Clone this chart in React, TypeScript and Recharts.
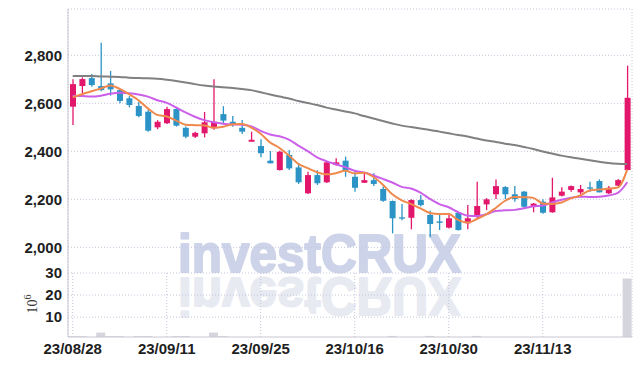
import React from 'react';
import { ComposedChart, BarChart, Bar, Line, XAxis, YAxis, CartesianGrid } from 'recharts';

const dates = [
  '23/08/28','23/08/29','23/08/30','23/08/31','23/09/01',
  '23/09/04','23/09/05','23/09/06','23/09/07','23/09/08',
  '23/09/11','23/09/12','23/09/13','23/09/14','23/09/15',
  '23/09/18','23/09/19','23/09/20','23/09/21','23/09/22',
  '23/09/25','23/09/26','23/09/27','23/10/04','23/10/05',
  '23/10/06','23/10/10','23/10/11','23/10/12','23/10/13',
  '23/10/16','23/10/17','23/10/18','23/10/19','23/10/20',
  '23/10/23','23/10/24','23/10/25','23/10/26','23/10/27',
  '23/10/30','23/10/31','23/11/01','23/11/02','23/11/03',
  '23/11/06','23/11/07','23/11/08','23/11/09','23/11/10',
  '23/11/13','23/11/14','23/11/15','23/11/16','23/11/17',
  '23/11/20','23/11/21','23/11/22','23/11/23','23/11/24',
];

const opens = [2586,2672,2705,2672,2683,2655,2621,2589,2565,2500,2517,2576,2498,2461,2475,2496,2555,2523,2498,2440,2422,2361,2322,2385,2333,2225,2301,2271,2343,2361,2294,2269,2280,2243,2193,2125,2123,2197,2135,2108,2082,2144,2100,2127,2179,2221,2251,2221,2232,2169,2190,2146,2215,2239,2229,2250,2276,2225,2257,2322];
const highs = [2700,2708,2722,2852,2735,2660,2630,2607,2572,2530,2586,2580,2503,2482,2564,2700,2588,2547,2530,2482,2450,2401,2402,2405,2350,2315,2321,2360,2371,2378,2318,2309,2309,2253,2195,2180,2200,2218,2152,2139,2142,2150,2176,2273,2205,2283,2255,2255,2235,2185,2200,2290,2250,2258,2260,2273,2283,2255,2285,2757];
const lows = [2510,2643,2669,2650,2632,2600,2583,2542,2482,2492,2514,2503,2454,2455,2458,2490,2517,2502,2472,2440,2375,2350,2320,2322,2264,2222,2260,2268,2340,2294,2232,2268,2255,2190,2058,2113,2075,2170,2042,2072,2078,2070,2075,2122,2155,2201,2201,2190,2165,2146,2140,2144,2212,2232,2221,2232,2229,2222,2255,2320];
const closes = [2680,2701,2676,2655,2658,2610,2593,2547,2486,2523,2576,2507,2461,2477,2521,2523,2528,2514,2482,2448,2392,2350,2398,2329,2271,2301,2267,2354,2354,2319,2248,2280,2264,2194,2121,2122,2197,2176,2097,2102,2121,2072,2121,2172,2200,2255,2221,2201,2169,2182,2144,2208,2232,2255,2243,2246,2229,2248,2280,2623];

const ma5 = [2625,2638,2650,2662,2674,2660,2638,2613,2579,2552,2545,2528,2511,2509,2508,2498,2502,2513,2514,2499,2473,2437,2414,2383,2348,2330,2313,2304,2309,2319,2308,2311,2293,2261,2221,2196,2180,2162,2143,2139,2139,2114,2103,2118,2137,2164,2194,2210,2209,2206,2183,2181,2187,2204,2216,2237,2241,2244,2249,2325];
const ma10 = [2632,2630,2628,2632,2640,2644,2642,2637,2628,2613,2602,2583,2562,2544,2530,2521,2515,2512,2511,2504,2485,2470,2463,2449,2424,2401,2375,2359,2346,2334,2319,2312,2299,2285,2270,2252,2245,2228,2202,2180,2167,2147,2132,2130,2138,2151,2154,2156,2163,2171,2174,2187,2198,2207,2211,2210,2211,2216,2227,2271];
const maLong = [2714,2714,2714,2712,2711,2710,2707,2705,2704,2702,2698,2693,2687,2680,2674,2670,2667,2664,2660,2655,2646,2637,2628,2620,2610,2601,2593,2582,2574,2566,2558,2547,2537,2526,2516,2507,2501,2495,2489,2482,2475,2468,2462,2453,2445,2439,2432,2426,2418,2410,2399,2391,2382,2375,2369,2363,2357,2351,2348,2347];

const volumes = [1.4,1.4,1.0,3.0,1.4,1.4,1.0,1.4,1.4,1.0,1.0,1.4,1.4,1.0,1.0,3.0,1.4,1.0,1.0,1.0,1.0,1.0,1.0,1.0,1.0,1.0,1.0,1.0,1.0,1.0,1.0,1.0,1.0,1.0,1.5,1.0,1.0,1.0,1.5,1.0,1.0,1.0,1.0,1.5,1.0,1.0,1.0,1.0,1.0,1.0,1.0,1.0,1.0,1.0,1.0,1.0,1.0,1.0,1.0,27.5];

const tickDates = ['23/08/28','23/09/11','23/09/25','23/10/16','23/10/30','23/11/13'];
const priceTicks = [2000, 2200, 2400, 2600, 2800];
const volTicks = [10, 20, 30];

const data = dates.map((d, i) => ({
  date: d,
  open: opens[i],
  high: highs[i],
  low: lows[i],
  close: closes[i],
  ma5: ma5[i],
  ma10: ma10[i],
  maLong: maLong[i],
  vol: volumes[i],
}));

const RED = '#e2176b';
const BLUE = '#2b93c6';
const GRID = '#c3c6dc';
const FRAME = '#c6c6d0';
const tickFont = { fontFamily: '"Liberation Sans Narrow", "Liberation Sans", sans-serif', fontWeight: 700, fontSize: 15, fill: '#1e1e1e' };
const wmStyle = { fontFamily: '"Liberation Sans", Arial, sans-serif', fontWeight: 700, fontSize: 53 };

const Candle = (props: any) => {
  const { x, y, width, height, payload } = props;
  if (!payload || x == null || y == null) return null;
  const top = Math.min(y, y + height);
  const h = Math.abs(height);
  const { open, close, high, low } = payload;
  const ppu = high > low ? h / (high - low) : 0;
  const yOf = (v: number) => top + (high - v) * ppu;
  const up = close > open;
  const color = up ? RED : BLUE;
  const cx = x + width / 2;
  const bTop = yOf(Math.max(open, close));
  const bBot = yOf(Math.min(open, close));
  return (
    <g>
      <line x1={cx} x2={cx} y1={top} y2={top + h} stroke={color} strokeWidth={1.3} />
      <rect x={x} y={bTop} width={width} height={Math.max(bBot - bTop, 1.3)} fill={color} />
    </g>
  );
};

export default function App() {
  return (
    <div style={{ position: 'absolute', left: 0, top: 0, width: 642, height: 366, background: '#fff', overflow: 'hidden' }}>
      <svg width={642} height={366} style={{ position: 'absolute', left: 0, top: 0 }}>
        <text x={178} y={272} textLength={283} lengthAdjust="spacingAndGlyphs" style={wmStyle}
          fill="#cdd3e8" stroke="#cdd3e8" strokeWidth={2} strokeLinejoin="round">investCRUX</text>
        <g transform="translate(0,550) scale(1,-1)">
          <text x={178} y={272} textLength={283} lengthAdjust="spacingAndGlyphs" style={wmStyle}
            fill="#e8eaf2" stroke="#e8eaf2" strokeWidth={2} strokeLinejoin="round">investCRUX</text>
        </g>
        <text transform="translate(37,304) rotate(-90)" textAnchor="middle"
          style={{ fontFamily: '"Liberation Serif", serif', fontSize: 14 }} fill="#333">
          10<tspan dy={-6} style={{ fontSize: 10 }}>6</tspan>
        </text>
      </svg>
      <div style={{ position: 'absolute', left: 0, top: 0 }}>
        <ComposedChart width={642} height={275} data={data} margin={{ top: 9, right: 10, bottom: 2, left: 8 }}>
          <CartesianGrid horizontal vertical stroke={GRID} strokeDasharray="1 2" />
          <XAxis dataKey="date" ticks={tickDates} interval={0} height={0} tick={false} tickLine={false} axisLine={{ stroke: FRAME }} />
          <XAxis xAxisId="top" dataKey="date" orientation="top" height={0} tick={false} tickLine={false} axisLine={{ stroke: FRAME }} />
          <YAxis domain={[1893, 2993]} ticks={priceTicks} interval={0} width={60} allowDataOverflow
            tickFormatter={(v: number) => v.toLocaleString('en-US')}
            tick={tickFont} tickLine={false} tickSize={0} tickMargin={6} axisLine={{ stroke: FRAME }} />
          <YAxis yAxisId="r" orientation="right" width={0} tick={false} tickLine={false} axisLine={{ stroke: FRAME }} />
          <Bar dataKey={(d: any) => [d.low, d.high]} shape={<Candle />} barSize={6} isAnimationActive={false} />
          <Line type="monotone" dataKey="maLong" stroke="#808080" strokeWidth={2} dot={false} isAnimationActive={false} />
          <Line type="monotone" dataKey="ma10" stroke="#cc5fe9" strokeWidth={2} dot={false} isAnimationActive={false} />
          <Line type="monotone" dataKey="ma5" stroke="#f0894c" strokeWidth={2} dot={false} isAnimationActive={false} />
        </ComposedChart>
      </div>
      <div style={{ position: 'absolute', left: 0, top: 253 }}>
        <BarChart width={642} height={113} data={data} margin={{ top: 20, right: 10, bottom: 0, left: 8 }}>
          <CartesianGrid horizontal vertical stroke={GRID} strokeDasharray="1 2" horizontalCoordinatesGenerator={(p: any) => {
            const top = p.offset.top; const h = p.offset.height;
            return [10, 20].map((v) => top + h - ((v - 1) / 29) * h);
          }} />
          <XAxis dataKey="date" ticks={tickDates} interval={0} height={29} tick={tickFont}
            tickLine={false} tickSize={0} tickMargin={6} axisLine={{ stroke: FRAME }} />
          <YAxis domain={[1, 30]} ticks={volTicks} interval={0} width={60} allowDataOverflow
            tick={tickFont} tickLine={false} tickSize={0} tickMargin={6} axisLine={{ stroke: FRAME }} />
          <YAxis yAxisId="r" orientation="right" width={0} tick={false} tickLine={false} axisLine={{ stroke: FRAME }} />
          <Bar dataKey="vol" fill="#d5d5dd" barSize={9} isAnimationActive={false} />
        </BarChart>
      </div>
    </div>
  );
}
